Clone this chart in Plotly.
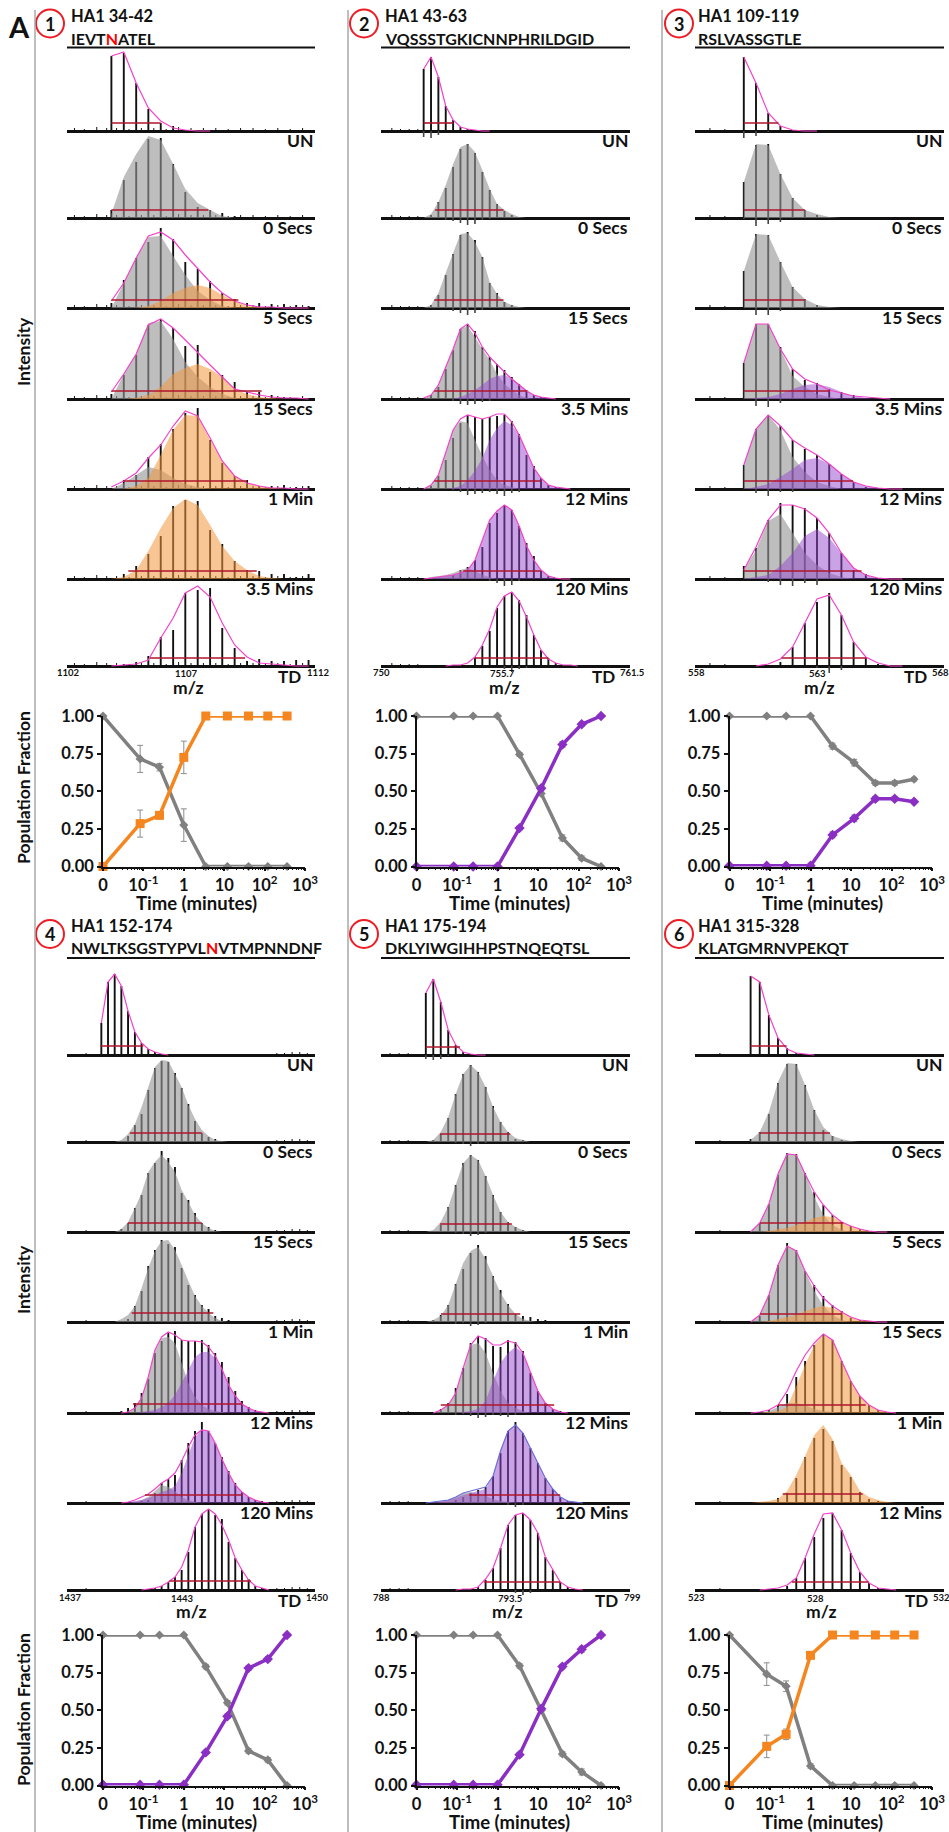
import plotly.graph_objects as go

# ---------- data: isotopic peak m/z per panel ----------
P1_MZ = [1103.79,1104.29,1104.79,1105.28,1105.78,1106.28,1106.77,1107.27,1107.77,1108.26,1108.76,1109.26,1109.75,1110.25,1110.75,1111.24,1111.74]
P2_MZ = [751.97,752.31,752.65,752.99,753.33,753.67,754.00,754.34,754.68,755.02,755.36,755.70,756.04,756.38,756.72,757.06,757.39,757.73,758.07,758.41,758.75,759.09,759.43]
P3_MZ = [559.96,560.45,560.94,561.43,561.92,562.41,562.90,563.39,563.88,564.37,564.86,565.35,565.84,566.33]
P4_MZ = [1438.80,1439.15,1439.50,1439.85,1440.20,1440.56,1440.91,1441.26,1441.61,1441.96,1442.31,1442.66,1443.01,1443.36,1443.71,1444.07,1444.42,1444.77,1445.12,1445.47,1445.82,1446.17,1446.52,1446.87,1447.22,1447.58]
P5_MZ = [789.98,790.31,790.64,790.97,791.30,791.63,791.96,792.29,792.62,792.95,793.28,793.61,793.94,794.27,794.60,794.93,795.26,795.59,795.92,796.25,796.58,796.91]
P6_MZ = [525.01,525.34,525.67,526.00,526.33,526.66,526.98,527.31,527.64,527.97,528.30,528.63,528.96,529.29,529.62,529.95,530.27]

# low-level noise peaks
P1_NOISE_MZ = [1102.3,1102.7,1103.2,1103.6,1104.0,1104.5,1105.0,1105.5,1106.0,1106.5,1107.0,1107.5,1108.0,1108.5,1109.0,1109.5,1110.0,1110.5,1111.0,1111.5]
P1_NOISE = [3,2,4,3,3,2,3,3,2,4,3,3,3,2,3,3,2,3,2,3]
P2_NOISE_MZ = [750.5,750.9,751.3,751.7,760.0,760.6,761.1]
P2_NOISE = [3,2,2,2,1,1,1]
P3_NOISE_MZ = [558.6,559.2,559.6,566.8,567.2,567.7]
P3_NOISE = [3,2,1,1,1,1]
P4_NOISE_MZ = [1437.5,1438.0,1438.4,1448.0,1448.4,1448.8,1449.2,1449.6]
P4_NOISE = [1,2,1,2,2,3,3,2]
P5_NOISE_MZ = [788.4,788.8,789.2,789.6,797.4,797.9,798.4]
P5_NOISE = [2,2,2,1,1,1,1]
P6_NOISE_MZ = [523.4,523.9,524.4,524.8,531.0,531.5]
P6_NOISE = [1,2,1,1,1,1]

# ---------- data: spectra, rows of each panel (top to bottom) ----------
P1_ROWS = [
 dict(label="UN", sticks=[75,78,48,22,8,5], pink=[75,79,48,23,10,3,1,0,0], red=[1103.79,1105.78,8]),
 dict(label="0 Secs", sticks=[8,38,56,79,80,54,26,11,8,5,2,1], gray=[4,41,64,82,78,54,29,15,8,2,0], red=[1103.79,1107.7,8]),
 dict(label="5 Secs", sticks=[5,28,50,66,80,69,46,39,27,15,9,5,5,4,4,3,2], gray=[0,25,50,71,72,52,33,17,8,2,0], col=[0,0,0,2,7,15,20,23,20,13,7,2,1,0,0,0,0], pink=[7,25,50,72,76,68,53,40,26,15,7,3,1,1,0,0,0], red=[1103.79,1108.91,8]),
 dict(label="15 Secs", sticks=[5,24,44,74,80,71,53,54,27,24,17,7,7,4,2,1,1], gray=[0,25,45,76,78,60,37,22,12,5,1,0], col=[0,0,1,4,12,25,31,35,30,22,10,5,2,1,0,0,0], pink=[7,25,45,74,80,71,59,47,34,22,10,7,4,2,1,1,0], red=[1103.79,1109.85,8]),
 dict(label="1 Min", sticks=[0,9,14,32,45,60,76,81,49,26,13,9,3,3,4,2,3], gray=[0,6,14,22,19,11,5,2,0], col=[0,0,3,11,34,59,74,73,49,28,13,6,3,1,0,0,0], pink=[2,8,16,31,44,63,78,73,51,28,13,6,3,1,1,0,0], red=[1104.29,1109.26,8]),
 dict(label="3.5 Mins", sticks=[1,5,13,25,43,73,79,78,49,35,18,9,8,5,5,2,5], col=[0,2,9,28,51,71,80,74,54,33,18,9,3,1,0,0], red=[1104.47,1109.65,8]),
 dict(label="", sticks=[0,2,4,10,29,36,73,76,78,38,18,5,7,5,5,6,6], pink=[0,1,2,6,28,48,73,80,69,43,21,9,3,2,1,0,0], red=[1105.35,1109.18,8]),
]
P2_ROWS = [
 dict(label="UN", sticks=[62,74,54,25,11,4,2,1], neg=[6,7,4], pink=[62,74,54,25,11,4,2,1,0,0], red=[751.97,753.34,8]),
 dict(label="0 Secs", sticks=[0,3,16,30,51,69,74,65,46,28,14,7,3], neg=[0,0,0,2,3,5,7,6,2,1], gray=[0,4,16,33,54,71,74,66,48,29,14,8,4,1,0], red=[752.5,755.66,8]),
 dict(label="15 Secs", sticks=[0,3,13,33,54,73,76,68,51,25,15,6,3], neg=[0,0,0,0,3,5,7,5,2], gray=[0,3,15,35,55,74,75,66,51,26,14,6,3,1,0], red=[752.46,755.66,8]),
 dict(label="3.5 Mins", sticks=[0,4,12,30,49,70,75,68,52,42,35,29,22,15,9,4,2], neg=[0,0,0,0,2,5,6,5,3,2], gray=[0,4,14,32,50,70,73,62,50,39,25,15,9,4,1,0], col=[0,0,0,0,0,2,5,9,14,20,23,24,21,15,9,4,2,1,0], pink=[1,4,14,32,50,70,75,66,52,42,34,27,20,14,8,4,2,1,0], red=[752.46,756.73,8]),
 dict(label="12 Mins", sticks=[0,3,13,29,51,66,74,72,70,72,73,74,68,55,34,23,11,4,2], neg=[0,0,0,0,1,3,6,5,4,3,5,7,4,3], gray=[0,4,14,36,59,68,66,49,33,19,9,4,2,0], col=[0,0,0,0,1,3,9,18,31,49,61,68,64,54,38,21,11,4,2,1,0], pink=[0,4,14,36,59,70,74,72,70,72,75,75,67,54,38,21,11,4,2,1,0], red=[752.46,757.36,8]),
 dict(label="120 Mins", sticks=[0,0,0,0,4,9,12,19,32,56,66,74,69,53,36,23,9,3], neg=[0,0,0,0,0,0,0,0,0,2,4,7,6,2], gray=[0,2,3,4,6,9,11,8,4,2,0], col=[0,1,2,3,4,6,9,19,39,59,68,74,69,53,33,19,9,3,1,0,0], pink=[0,1,2,3,4,6,9,19,39,59,68,74,69,53,33,19,9,3,1,0,0], red=[753.8,757.36,8]),
 dict(label="", sticks=[0,0,0,0,0,0,1,9,20,35,58,70,74,66,51,31,16,8,3,1], neg=[0,0,0,0,0,0,0,0,0,0,0,3,6,3,2], pink=[0,0,0,0,1,1,3,9,21,37,59,70,74,65,49,31,16,7,3,1,1,0], red=[754.34,757.73,8]),
]
P3_ROWS = [
 dict(label="UN", sticks=[74,48,18,5,1], neg=[7,5,1], pink=[74,48,18,5,1,0,0], red=[559.96,561.35,8]),
 dict(label="0 Secs", sticks=[36,73,74,44,20,8,3], neg=[1,8,6,4], gray=[36,74,73,44,20,8,4,1,0], red=[559.96,562.41,8]),
 dict(label="15 Secs", sticks=[37,74,73,46,21,9,3], neg=[0,7,7,3], gray=[37,74,73,46,21,9,3,1,0], red=[559.96,562.41,8]),
 dict(label="3.5 Mins", sticks=[36,75,75,52,30,19,16,10,7,4,1], neg=[0,7,8,4], gray=[36,75,75,50,23,12,5,2,0], col=[0,1,2,5,10,14,15,12,7,3,1,0,0], pink=[36,75,75,50,30,20,15,9,6,3,2,1,0], red=[559.96,563.42,8]),
 dict(label="12 Mins", sticks=[24,60,74,63,49,40,34,25,15,7,2], neg=[0,4,7,3,3], gray=[24,60,74,59,32,17,7,3,0], col=[0,2,5,12,20,29,31,25,15,7,3,1,0,0], pink=[24,60,74,63,49,41,34,25,15,7,3,1,0,0], red=[559.96,564.35,8]),
 dict(label="120 Mins", sticks=[13,31,59,76,74,71,61,46,26,9,5], neg=[0,0,3,6,7,4,6], gray=[9,29,58,65,46,26,14,6,2,0], col=[0,2,4,13,26,43,50,41,26,11,4,1,0,0], pink=[9,32,59,74,74,70,61,46,26,11,4,1,0,0], red=[559.96,564.69,8]),
 dict(label="", sticks=[0,0,1,4,19,43,64,73,51,24,8,2], neg=[0,0,0,0,0,0,2,7,4], pink=[0,0,2,7,19,43,67,71,51,24,9,3,0,0], red=[561.48,564.88,8]),
]
P4_ROWS = [
 dict(label="UN", sticks=[32,73,81,69,44,23,12,6,3,1], pink=[32,73,81,69,44,23,12,6,3,1,0], red=[1438.76,1441.0,9]),
 dict(label="0 Secs", sticks=[0,0,0,0,6,17,28,52,74,81,80,69,54,38,21,9,5,3], gray=[0,0,0,2,8,18,35,55,75,82,81,68,55,37,23,12,6,2,1,0], red=[1440.3,1444.06,9]),
 dict(label="15 Secs", sticks=[0,0,0,3,9,24,37,59,69,81,74,65,39,32,19,9,5,2], gray=[0,0,0,3,10,24,39,60,70,77,70,60,42,30,17,9,4,1,0], red=[1440.2,1444.06,9]),
 dict(label="1 Min", sticks=[0,0,0,0,3,16,31,56,72,82,78,75,54,37,27,17,13,6,4,2,1], gray=[0,0,0,3,7,16,34,54,71,81,82,72,57,41,26,16,9,4,1,0], red=[1440.39,1444.67,9]),
 dict(label="12 Mins", sticks=[0,0,0,2,5,10,20,34,60,72,80,82,73,72,72,73,68,60,51,36,22,12,6,3], gray=[0,0,0,0,0,5,15,35,62,75,76,70,50,30,16,8,4,2,1,0], col=[0,0,0,0,0,0,1,2,3,6,10,18,30,43,56,61,61,55,43,28,17,9,5,2,1,0], pink=[0,0,0,0,1,5,15,36,63,76,81,78,73,72,72,71,66,57,44,28,17,9,5,2,1,0], red=[1440.46,1446.17,9]),
 dict(label="120 Mins", sticks=[0,0,0,0,0,0,2,3,10,20,24,28,43,60,72,81,72,60,46,32,20,11,6,3,2], gray=[0,0,0,0,0,1,3,6,12,18,16,12,6,3,1,0], col=[0,0,0,0,1,2,3,5,8,11,13,17,30,48,66,73,72,60,44,30,18,11,6,3,1,0], pink=[0,0,0,0,1,3,6,9,14,20,24,30,42,56,68,73,72,60,44,30,18,11,6,3,1,0], red=[1441.09,1446.17,8]),
 dict(label="", sticks=[0,0,0,0,0,0,0,1,2,4,8,13,20,38,63,76,80,75,71,48,32,20,11,4,2], pink=[0,0,0,0,0,0,0,1,2,4,8,13,23,40,63,76,81,76,65,50,32,20,10,4,2,0], red=[1442.37,1446.64,9]),
]
P5_ROWS = [
 dict(label="UN", sticks=[62,76,53,25,10,3,1], neg=[4,5,4,1], pink=[62,76,53,25,10,3,1,0,0], red=[789.98,791.49,8]),
 dict(label="0 Secs", sticks=[0,2,8,24,48,68,77,70,55,36,20,10,3,2], neg=[0,0,0,0,1,2,4,2,1], gray=[0,2,10,25,48,68,77,70,55,35,20,10,4,2,0], red=[790.61,793.71,8]),
 dict(label="15 Secs", sticks=[0,0,7,25,47,69,77,72,56,37,20,10,5,2], neg=[0,0,0,0,1,2,4,3,1], gray=[0,2,10,25,47,69,77,72,56,37,20,10,5,2,0], red=[790.61,793.78,8]),
 dict(label="1 Min", sticks=[0,2,7,17,38,53,69,77,66,46,32,18,8,6,5,3,2,1], neg=[0,0,0,0,2,1,4,3,1], gray=[0,2,6,17,38,59,71,75,63,46,29,17,8,3,1,0], red=[790.65,794.15,8]),
 dict(label="12 Mins", sticks=[0,0,4,10,25,45,70,77,75,67,66,73,71,62,40,22,10,4,2], neg=[0,0,0,0,2,1,3,5,4,2,3,4,2], gray=[0,0,3,8,20,42,68,70,60,40,22,10,5,2,0], col=[0,0,0,0,0,1,2,4,12,32,50,60,66,60,40,22,10,4,1,0,0,0], pink=[0,0,3,8,20,45,68,77,74,68,68,72,70,60,40,22,10,4,1,0], red=[790.64,795.65,8]),
 dict(label="120 Mins", sticks=[0,0,0,0,3,6,10,13,16,27,50,72,81,70,55,40,25,14,6,2], neg=[0,0,0,0,0,0,0,0,0,0,0,2,4,2], gray=[0,0,1,3,6,10,11,9,7,4,2,1,0], col=[0,1,2,3,5,8,10,12,14,27,52,72,78,70,55,40,25,14,6,2,1,0], pink=[0,1,2,3,6,10,12,14,16,27,52,72,78,70,55,40,25,14,6,2,1,0], blue=True, red=[791.89,795.92,8]),
 dict(label="", sticks=[0,0,0,0,0,0,0,3,10,22,42,65,75,77,70,57,33,20,8,3,1], neg=[0,0,0,0,0,0,0,0,0,0,0,0,3,5,3], pink=[0,0,0,0,0,1,1,3,11,22,42,65,75,77,70,57,33,20,8,3,1,0], red=[792.56,795.92,8]),
]
P6_ROWS = [
 dict(label="UN", sticks=[79,73,40,17,7,2,1], pink=[79,73,40,17,6,2,1,0], red=[525.01,526.31,9]),
 dict(label="0 Secs", sticks=[3,10,28,59,78,78,57,32,12,6,2], gray=[2,10,30,60,79,78,57,32,15,6,3,1,0], red=[525.35,527.88,9]),
 dict(label="5 Secs", sticks=[1,9,28,57,79,78,59,40,27,17,10,6,3], gray=[0,9,28,59,78,77,59,35,17,7,2,0], col=[0,0,1,3,4,7,10,14,16,15,10,6,3,1,0,0], pink=[0,9,28,58,78,77,58,40,27,17,10,6,3,1,0,0], red=[525.35,528.36,9]),
 dict(label="15 Secs", sticks=[0,6,27,57,79,72,51,37,26,17,11,4,2], gray=[0,6,27,57,76,72,51,31,16,7,2,0], col=[0,0,1,3,5,7,11,14,16,14,10,5,2,1,0,0], pink=[0,7,27,57,76,71,51,36,24,16,10,5,2,1,0,0], red=[525.35,528.3,8]),
 dict(label="1 Min", sticks=[0,1,3,8,19,36,52,68,79,73,52,32,17,8,3,1], gray=[0,0,2,6,10,10,8,4,2,1,0], col=[0,0,1,2,6,27,48,68,78,73,52,32,17,8,3,1,0], pink=[0,1,3,8,22,42,58,70,79,73,52,32,17,8,3,1,0], red=[526.0,529.17,8]),
 dict(label="12 Mins", sticks=[0,0,0,5,10,25,46,65,74,62,38,26,11,4,2], col=[0,1,2,4,12,28,47,68,78,64,40,28,12,6,3,1,0], red=[526.17,529.06,9]),
 dict(label="", sticks=[0,0,0,1,4,12,32,53,72,77,60,37,18,7,2], pink=[0,0,1,2,5,12,32,56,76,77,60,37,18,7,2,1,0], red=[526.5,529.27,8]),
]

# ---------- data: deuterium-uptake population fractions ----------
TIME_MIN = [0.01,0.083,0.25,1,3.5,12,40,120,360]   # first point is the "0" position of the broken log axis
TIME_TICKVALS = [0.01,0.1,1,10,100,1000]
TIME_TICKTEXT = ["0","10<sup>-1</sup>","1","10","10<sup>2</sup>","10<sup>3</sup>"]
FRACTION_TICKS = [0,0.25,0.5,0.75,1]

P1_LOW  = [1,0.715,0.66,0.275,0,0,0,0,0]
P1_HIGH = [0,0.285,0.34,0.725,1,1,1,1,1]
P1_ERR  = [0,0.09,0.025,0.108,0,0,0,0,0]
P2_LOW  = [1,1,1,1,0.745,0.485,0.19,0.055,0]
P2_HIGH = [0,0,0,0,0.255,0.52,0.81,0.945,1]
P2_ERR  = [0,0,0,0,0.012,0.015,0.02,0.015,0.005]
P3_LOW  = [1,1,1,1,0.80,0.69,0.555,0.555,0.58]
P3_HIGH = [0.005,0.005,0.005,0.005,0.21,0.32,0.45,0.45,0.43]
P3_ERR  = [0,0,0,0,0.02,0.022,0.015,0.015,0.012]
P4_LOW  = [1,1,1,1,0.79,0.55,0.23,0.17,0]
P4_HIGH = [0.005,0.005,0.005,0.005,0.22,0.46,0.78,0.84,1]
P4_ERR  = [0,0,0,0,0.015,0.015,0.015,0.015,0.005]
P5_LOW  = [1,1,1,1,0.795,0.50,0.21,0.09,0]
P5_HIGH = [0.005,0.005,0.005,0.005,0.205,0.51,0.79,0.905,1]
P5_ERR  = [0,0,0,0,0.015,0.02,0.015,0.02,0.01]
P6_LOW  = [1,0.74,0.66,0.13,0,0,0,0,0]
P6_HIGH = [0,0.26,0.34,0.865,1,1,1,1,1]
P6_ERR  = [0,0.075,0.035,0.015,0,0,0,0,0]

# ---------- panel text ----------
P_TITLES = ["HA1 34-42","HA1 43-63","HA1 109-119","HA1 152-174","HA1 175-194","HA1 315-328"]
P_SEQS = ['IEVT<span style="color:#ff0000">N</span>ATEL',"VQSSSTGKICNNPHRILDGID","RSLVASSGTLE",
          'NWLTKSGSTYPVL<span style="color:#ff0000">N</span>VTMPNNDNF',"DKLYIWGIHHPSTNQEQTSL","KLATGMRNVPEKQT"]
P_RANGES = [[1102,1112],[750,761.5],[558,568],[1437,1450],[788,799],[523,532]]
P_LEFT_TICK = ["1102","750","558","1437","788","523"]
P_MID_TICK = ["1107","755.7","563","1443","793.5","528"]
P_TD_TICK = ["1112","761.5","568","1450","799","532"]

# ---------- styling / layout ----------
W, H = 949, 1832
FONT = "Lato"
BLACK = "#111111"
GRAY_FILL = "rgba(150,150,150,0.62)"
ORANGE_FILL = "rgba(243,150,60,0.55)"
PURPLE_FILL = "rgba(150,70,205,0.50)"
PINK = "#f542c8"
BLUEENV = "#6a6fd8"
RED = "#b0142c"
ORANGE = "#f5861f"
PURPLE = "#8a2ec4"
GRAYLINE = "#808080"

SPEC_X = [(67,315),(381,630),(695,944)]
TOP_BASE = [131,218,308,399,489,579,666]
BOT_BASE = [1055,1142,1232,1322,1413,1503,1590]
CHART_X = [(103,305),(416.5,619),(729.5,932)]
CHART_Y = [(716,866.5),(1635,1785.5)]
HEAD_Y = [(23.5,15.5,38.5,47.5),(934,925.5,947.5,958)]
CIRCLE_X = [50,364,679]
TEXT_X = [69,383,696]
Y_MZ = [(673,676,687),(1597,1600,1611)]
LEFT_TICK_X = [[68,381,696],[70,381,696]]
MID_TICK_X = [[186,503,817],[182,510,815]]
TD_X = [[303,617,929],[303,620,930]]
TDTICK_X = [[305,618,930],[304,622,931]]
MZ_LABEL_X = [[188,504,819],[191,507,821]]

fig = go.Figure()
shapes, ann = [], []

def xp(p): return p / W
def yp(p): return 1 - p / H

def text(t, x, y, size, xanchor="center", color=BLACK, angle=0, bold=True):
    ann.append(dict(text=t, x=xp(x), y=yp(y), xref="paper", yref="paper", showarrow=False,
                    xanchor=xanchor, yanchor="middle", textangle=angle,
                    font=dict(family=FONT, size=size, color=color, weight=700 if bold else 400)))

def trim(xs, ys):
    pairs = list(zip(xs, ys))
    i = 0
    while i < len(pairs) - 1 and pairs[i][1] == 0 and pairs[i + 1][1] == 0:
        i += 1
    pairs = pairs[i:]
    return [p[0] for p in pairs], [p[1] for p in pairs]

def sticks(xs, ys):
    ox, oy = [], []
    for a, b in zip(xs, ys):
        if b:
            ox += [a, a, None]
            oy += [0, b, None]
    return ox, oy

axis_n = 0
def new_axes(xdom, ydom):
    global axis_n
    axis_n += 1
    return axis_n, [xp(xdom[0]), xp(xdom[1])], [yp(ydom[1]), yp(ydom[0])]

def spectrum(row, base, xspan, xrange, mz, nmz, nval, color_fill):
    n, dx, dy = new_axes(xspan, (base - 88, base + 10))
    ax = dict(xaxis=f"x{n}", yaxis=f"y{n}", hoverinfo="skip", showlegend=False)
    fig.add_trace(go.Scatter(x=sticks(nmz, nval)[0], y=sticks(nmz, nval)[1], mode="lines",
                             line=dict(color=BLACK, width=1), **ax))
    sx, sy = sticks(mz, row["sticks"])
    fig.add_trace(go.Scatter(x=sx, y=sy, mode="lines", line=dict(color=BLACK, width=1.9), **ax))
    if row.get("neg"):
        sx, sy = sticks(mz, [-v for v in row["neg"]])
        fig.add_trace(go.Scatter(x=sx, y=sy, mode="lines", line=dict(color="#444444", width=1.6), **ax))
    if row.get("gray"):
        tx, ty = trim(mz, row["gray"])
        fig.add_trace(go.Scatter(x=tx, y=ty, mode="none", fill="tozeroy", fillcolor=GRAY_FILL, **ax))
    if row.get("col"):
        tx, ty = trim(mz, row["col"])
        fig.add_trace(go.Scatter(x=tx, y=ty, mode="none", fill="tozeroy", fillcolor=color_fill, **ax))
    if row.get("pink"):
        tx, ty = trim(mz, row["pink"])
        fig.add_trace(go.Scatter(x=tx, y=ty, mode="lines",
                                 line=dict(color=BLUEENV if row.get("blue") else PINK, width=1.2), **ax))
    r = row["red"]
    fig.add_trace(go.Scatter(x=r[:2], y=[r[2], r[2]], mode="lines", line=dict(color=RED, width=1.6), **ax))
    fig.update_layout({
        f"xaxis{n}": dict(domain=dx, range=xrange, anchor=f"y{n}", showgrid=False, zeroline=False,
                          showticklabels=False, ticks="", showline=False),
        f"yaxis{n}": dict(domain=dy, range=[-10, 88], anchor=f"x{n}", showgrid=False, zeroline=True,
                          zerolinecolor=BLACK, zerolinewidth=2.6, showticklabels=False, ticks="", showline=False),
    })

def chart(xspan, yspan, low, high, err, color, symbol, msize):
    n, dx, dy = new_axes(xspan, yspan)
    ax = dict(xaxis=f"x{n}", yaxis=f"y{n}", hoverinfo="skip", showlegend=False, cliponaxis=False)
    ebar = dict(type="data", array=err, color="#8c8c8c", thickness=1, width=3)
    fig.add_trace(go.Scatter(x=TIME_MIN, y=low, mode="lines+markers", error_y=ebar,
                             line=dict(color=GRAYLINE, width=3.5),
                             marker=dict(color=GRAYLINE, symbol="diamond", size=7), **ax))
    fig.add_trace(go.Scatter(x=TIME_MIN, y=high, mode="lines+markers", error_y=ebar,
                             line=dict(color=color, width=3.5),
                             marker=dict(color=color, symbol=symbol, size=msize), **ax))
    tickfont = dict(family=FONT, size=16.5, color=BLACK, weight=700)
    fig.update_layout({
        f"xaxis{n}": dict(domain=dx, type="log", range=[-2, 3], anchor=f"y{n}", showgrid=False, zeroline=False,
                          tickmode="array", tickvals=TIME_TICKVALS, ticktext=TIME_TICKTEXT, tickfont=tickfont,
                          ticks="outside", ticklen=3, tickwidth=1.5, tickcolor=BLACK, showline=True,
                          linecolor=BLACK, linewidth=1.5,
                          minor=dict(ticks="outside", ticklen=2, tickwidth=1, tickcolor=BLACK, dtick="D1")),
        f"yaxis{n}": dict(domain=dy, range=[0, 1], anchor=f"x{n}", showgrid=False, zeroline=False,
                          tickmode="array", tickvals=FRACTION_TICKS, tickformat=".2f", tickfont=tickfont,
                          ticks="outside", ticklen=4, tickwidth=1.5, tickcolor=BLACK, showline=True,
                          linecolor=BLACK, linewidth=1.5),
    })

panels = [
    (P1_ROWS, P1_MZ, P1_NOISE_MZ, P1_NOISE, ORANGE_FILL, P1_LOW, P1_HIGH, P1_ERR, ORANGE, "square", 9),
    (P2_ROWS, P2_MZ, P2_NOISE_MZ, P2_NOISE, PURPLE_FILL, P2_LOW, P2_HIGH, P2_ERR, PURPLE, "diamond", 8),
    (P3_ROWS, P3_MZ, P3_NOISE_MZ, P3_NOISE, PURPLE_FILL, P3_LOW, P3_HIGH, P3_ERR, PURPLE, "diamond", 8),
    (P4_ROWS, P4_MZ, P4_NOISE_MZ, P4_NOISE, PURPLE_FILL, P4_LOW, P4_HIGH, P4_ERR, PURPLE, "diamond", 8),
    (P5_ROWS, P5_MZ, P5_NOISE_MZ, P5_NOISE, PURPLE_FILL, P5_LOW, P5_HIGH, P5_ERR, PURPLE, "diamond", 8),
    (P6_ROWS, P6_MZ, P6_NOISE_MZ, P6_NOISE, ORANGE_FILL, P6_LOW, P6_HIGH, P6_ERR, ORANGE, "square", 9),
]

for idx, (rows, mz, nmz, nval, fill, low, high, err, color, sym, msize) in enumerate(panels):
    tier, col = idx // 3, idx % 3
    bases = TOP_BASE if tier == 0 else BOT_BASE
    xspan = SPEC_X[col]
    for row, base in zip(rows, bases):
        spectrum(row, base, xspan, P_RANGES[idx], mz, nmz, nval, fill)
        if row["label"]:
            text(row["label"], xspan[1], base + 9.5, 17.5, xanchor="right")
    chart(CHART_X[col], CHART_Y[tier], low, high, err, color, sym, msize)

    cy, ty, sy, ly = HEAD_Y[tier]
    cx = CIRCLE_X[col]
    shapes.append(dict(type="circle", xref="paper", yref="paper", x0=xp(cx - 14), x1=xp(cx + 14),
                       y0=yp(cy + 14), y1=yp(cy - 14), line=dict(color="#ee1c25", width=2), fillcolor="white"))
    text(str(idx + 1), cx, cy, 18)
    text(P_TITLES[idx], TEXT_X[col], ty, 16.5, xanchor="left")
    text(P_SEQS[idx], TEXT_X[col], sy, 16, xanchor="left")
    shapes.append(dict(type="line", xref="paper", yref="paper", x0=xp(xspan[0]), x1=xp(xspan[1]),
                       y0=yp(ly), y1=yp(ly), line=dict(color=BLACK, width=2)))

    tick_y, td_y, mz_y = Y_MZ[tier]
    text(P_LEFT_TICK[idx], LEFT_TICK_X[tier][col], tick_y, 9.5)
    text(P_MID_TICK[idx], MID_TICK_X[tier][col], tick_y + 1, 9.5)
    text("TD", TD_X[tier][col], td_y, 17, xanchor="right")
    text(P_TD_TICK[idx], TDTICK_X[tier][col], tick_y, 9.5, xanchor="left")
    text("m/z", MZ_LABEL_X[tier][col], mz_y, 17.5)
    cx0, cx1 = CHART_X[col]
    chart_bottom = CHART_Y[tier][1]
    text("Time (minutes)", (cx0 + cx1) / 2 - 8, chart_bottom + 36, 18.5)

for x in (35, 348, 662):
    shapes.append(dict(type="line", xref="paper", yref="paper", x0=xp(x), x1=xp(x), y0=yp(10), y1=yp(H),
                       line=dict(color="#a8a8a8", width=1.5)))

text("A", 19, 26, 29)
text("Intensity", 23, 352, 17.5, angle=-90)
text("Population Fraction", 23, 788, 17.5, angle=-90)
text("Intensity", 23, 1280, 17.5, angle=-90)
text("Population Fraction", 23, 1710, 17.5, angle=-90)

fig.update_layout(width=W, height=H, autosize=False, margin=dict(l=0, r=0, t=0, b=0, pad=0, autoexpand=False),
                  paper_bgcolor="white", plot_bgcolor="rgba(0,0,0,0)", hovermode=False,
                  showlegend=False, shapes=shapes, annotations=ann)
fig.write_html("out.html", config=dict(displayModeBar=False),
               post_script='document.body.style.margin="0";document.documentElement.style.overflow="hidden";')
